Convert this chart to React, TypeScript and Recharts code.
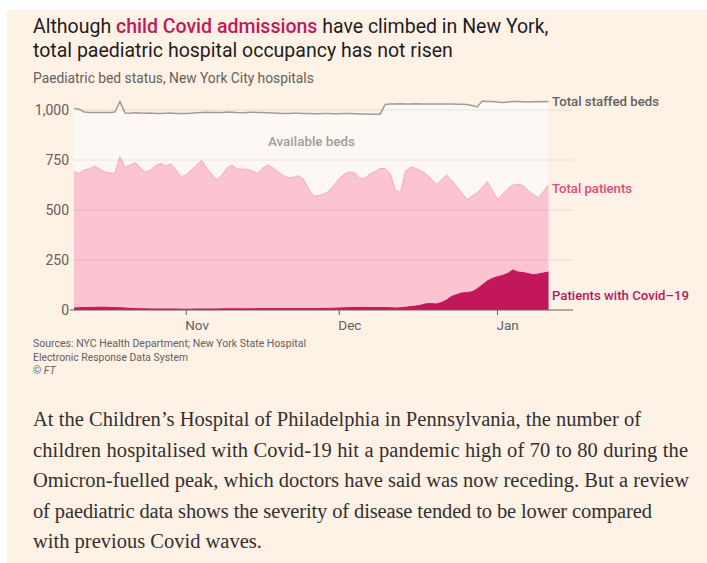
import React from 'react';
import { ComposedChart, Area, XAxis, YAxis, ReferenceLine } from 'recharts';

// Day 0 = 10 Oct 2021, one value per day up to 11 Jan 2022
const startDate = '2021-10-10';

const staffedBeds = [
  1008, 1004, 990, 987, 987, 988, 987, 987, 990, 1042,
  985, 984, 986, 985, 984, 985, 983, 983, 984, 985,
  983, 982, 982, 984, 986, 988, 989, 988, 987, 988,
  990, 989, 987, 986, 988, 989, 988, 987, 986, 985,
  984, 983, 983, 984, 984, 983, 982, 981, 981, 982,
  982, 981, 981, 982, 982, 981, 980, 980, 979, 979,
  979, 1028, 1030, 1030, 1031, 1030, 1030, 1031, 1030, 1030,
  1030, 1030, 1030, 1030, 1030, 1029, 1029, 1028, 1022, 1015,
  1045, 1042, 1043, 1040, 1038, 1040, 1042, 1042, 1041, 1040,
  1041, 1042, 1041, 1042,
];

const totalPatients = [
  692, 683, 700, 705, 720, 705, 690, 685, 683, 767,
  713, 725, 737, 712, 690, 700, 722, 733, 720, 730,
  700, 667, 675, 700, 725, 747, 710, 680, 650, 675,
  710, 725, 705, 705, 703, 695, 683, 710, 725, 710,
  690, 672, 662, 663, 672, 652, 605, 569, 572, 580,
  595, 625, 657, 680, 690, 686, 658, 660, 680, 692,
  708, 706, 680, 600, 588, 695, 715, 708, 695, 680,
  655, 627, 650, 675, 650, 617, 585, 552, 570, 585,
  612, 642, 598, 552, 580, 605, 625, 628, 622, 598,
  578, 562, 592, 625,
];

const covidPatients = [
  10, 11, 12, 13, 13, 14, 14, 13, 12, 11,
  10, 8, 7, 6, 6, 5, 5, 5, 5, 5,
  5, 4, 4, 4, 5, 5, 5, 5, 5, 6,
  6, 6, 6, 6, 6, 6, 7, 7, 7, 7,
  7, 7, 7, 7, 7, 7, 7, 7, 7, 8,
  8, 9, 10, 11, 12, 13, 13, 13, 12, 12,
  12, 12, 11, 10, 11, 14, 17, 20, 24, 31,
  32, 30, 37, 50, 68, 77, 85, 87, 91, 105,
  125, 145, 158, 166, 173, 183, 200, 190, 187, 182,
  176, 180, 185, 190,
];

const tickDays = [22, 52, 83];
const tickLabels = ['Nov', 'Dec', 'Jan'];
const yTicks = [0, 250, 500, 750, 1000];
const gridValues = [250, 500, 750, 1000];

const titleLine1Start = 'Although ';
const titleHighlight = 'child Covid admissions';
const titleLine1End = ' have climbed in New York,';
const titleLine2 = 'total paediatric hospital occupancy has not risen';
const subtitle = 'Paediatric bed status, New York City hospitals';
const sourceLines = [
  'Sources: NYC Health Department; New York State Hospital',
  'Electronic Response Data System',
];
const paragraphLines = [
  'At the Children\u2019s Hospital of Philadelphia in Pennsylvania, the number of',
  'children hospitalised with Covid-19 hit a pandemic high of 70 to 80 during the',
  'Omicron-fuelled peak, which doctors have said was now receding. But a review',
  'of paediatric data shows the severity of disease tended to be lower compared',
  'with previous Covid waves.',
];
const paragraphWidths = [608, 655, 656, 619, 0];

const data = staffedBeds.map((v, i) => ({
  day: i,
  staffed: v,
  patients: totalPatients[i],
  covid: covidPatients[i],
}));

const FONT = "Roboto, 'Noto Sans', sans-serif";
const SERIF = "'Liberation Serif', 'DejaVu Serif', serif";
const GREY = '#66605c';

const XTick = (props: any) => {
  const { x, y, payload } = props;
  const idx = tickDays.indexOf(payload.value);
  return (
    <text x={x - 1} y={y} dy={15} fill={GREY} fontSize={13.5} fontFamily={FONT} textAnchor="start">
      {tickLabels[idx]}
    </text>
  );
};

const YTick = (props: any) => {
  const { x, y, payload } = props;
  return (
    <text x={x} y={y} dy={5} fill={GREY} fontSize={14} fontFamily={FONT} textAnchor="end">
      {payload.value.toLocaleString('en-US')}
    </text>
  );
};

export default function App() {
  return (
    <div style={{ position: 'absolute', left: 0, top: 0, width: 707, height: 563, background: '#ffffff', overflow: 'hidden' }}>
      <div style={{ position: 'absolute', left: 7, top: 10, width: 700, height: 553, background: '#fef1e6' }} />
      <div style={{ position: 'absolute', left: 0, top: 0 }}>
        <ComposedChart width={707} height={345} data={data} margin={{ top: 90, right: 134, left: 24, bottom: 0 }}>
          <XAxis
            dataKey="day"
            type="number"
            domain={[0, 97.8]}
            ticks={tickDays}
            interval={0}
            allowDataOverflow
            tick={(p: any) => <XTick {...p} />}
            tickSize={5}
            tickMargin={0}
            tickLine={{ stroke: GREY }}
            axisLine={false}
            height={35}
          />
          <YAxis
            type="number"
            domain={[0, 1100]}
            ticks={yTicks}
            interval={0}
            allowDataOverflow
            tick={(p: any) => <YTick {...p} />}
            tickSize={0}
            tickMargin={5}
            axisLine={false}
            tickLine={false}
            width={50}
          />
          <Area dataKey="staffed" type="linear" fill="#fdf8f3" fillOpacity={1} stroke="#a29c96" strokeWidth={1.5} dot={false} activeDot={false} isAnimationActive={false} />
          <Area dataKey="patients" type="linear" fill="#fbc4d0" fillOpacity={1} stroke="#f4aabd" strokeWidth={1} dot={false} activeDot={false} isAnimationActive={false} />
          <Area dataKey="covid" type="linear" fill="#c2185b" fillOpacity={1} stroke="#c2185b" strokeWidth={1} dot={false} activeDot={false} isAnimationActive={false} />
          {gridValues.map((v) => (
            <ReferenceLine key={v} y={v} stroke="rgba(100,80,70,0.13)" strokeWidth={1} />
          ))}
          <ReferenceLine segment={[{ x: -0.8, y: 0 }, { x: 97.8, y: 0 }]} stroke={GREY} strokeWidth={1} ifOverflow="visible" />
        </ComposedChart>
      </div>
      <svg width={707} height={563} style={{ position: 'absolute', left: 0, top: 0, pointerEvents: 'none' }}>
        <text x={33} y={33} fontSize={19.5} fontFamily={FONT} fill="#1f1d1c">
          {titleLine1Start}
          <tspan fill="#c2185b" fontWeight={500}>{titleHighlight}</tspan>
          {titleLine1End}
        </text>
        <text x={33} y={57} fontSize={19.5} fontFamily={FONT} fill="#1f1d1c">{titleLine2}</text>
        <text x={33} y={83} fontSize={13.8} fontFamily={FONT} fill={GREY}>{subtitle}</text>

        <text x={552} y={106} fontSize={13.5} fontWeight={500} fontFamily={FONT} fill={GREY} textLength={107} lengthAdjust="spacingAndGlyphs">Total staffed beds</text>
        <text x={268} y={146} fontSize={13.5} fontWeight={500} fontFamily={FONT} fill="#a39d98" textLength={87} lengthAdjust="spacingAndGlyphs">Available beds</text>
        <text x={552} y={193} fontSize={13.5} fontWeight={500} fontFamily={FONT} fill="#dc4b7e" textLength={80} lengthAdjust="spacingAndGlyphs">Total patients</text>
        <text x={552} y={300} fontSize={13.5} fontWeight={500} fontFamily={FONT} fill="#b8195a" textLength={137} lengthAdjust="spacingAndGlyphs">Patients with Covid–19</text>

        <text x={33} y={347} fontSize={10.5} fontFamily={FONT} fill={GREY} textLength={273} lengthAdjust="spacingAndGlyphs">{sourceLines[0]}</text>
        <text x={33} y={361} fontSize={10.5} fontFamily={FONT} fill={GREY} textLength={155} lengthAdjust="spacingAndGlyphs">{sourceLines[1]}</text>
        <text x={33} y={374} fontSize={10.5} fontFamily={FONT} fill={GREY}>
          {'© '}
          <tspan fontStyle="italic">FT</tspan>
        </text>

        {paragraphLines.map((line, i) =>
          paragraphWidths[i] > 0 ? (
            <text key={i} x={33} y={426 + i * 30.5} fontSize={20.5} fontFamily={SERIF} fill="#33302e" textLength={paragraphWidths[i]} lengthAdjust="spacing">
              {line}
            </text>
          ) : (
            <text key={i} x={33} y={426 + i * 30.5} fontSize={20.5} fontFamily={SERIF} fill="#33302e">
              {line}
            </text>
          )
        )}
      </svg>
    </div>
  );
}
